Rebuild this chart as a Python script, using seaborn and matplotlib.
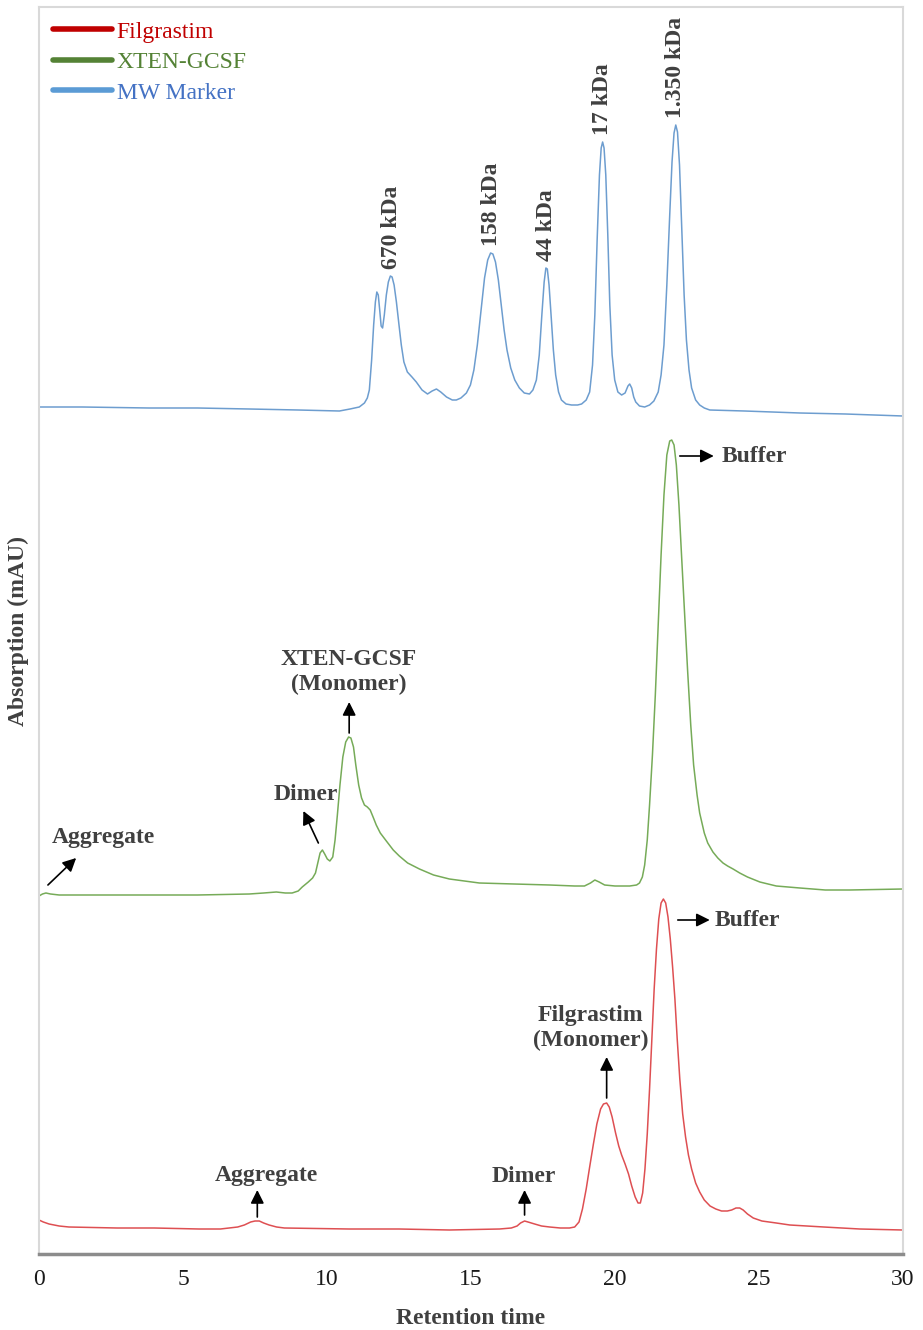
import numpy as np
import pandas as pd
import matplotlib
matplotlib.use("Agg")
import matplotlib.pyplot as plt
import seaborn as sns

# ---------------- data ----------------
marker_time = [0.00, 1.50, 3.82, 5.50, 7.30, 9.00, 10.43, 10.80, 11.12, 11.30, 11.40, 11.47,
               11.55, 11.62, 11.68, 11.73, 11.78, 11.83, 11.88, 11.93, 11.99, 12.06, 12.13, 12.20,
               12.26, 12.33, 12.41, 12.50, 12.58, 12.67, 12.79, 12.95, 13.10, 13.30, 13.49, 13.65,
               13.80, 13.95, 14.15, 14.35, 14.49, 14.65, 14.84, 14.98, 15.10, 15.22, 15.35, 15.47,
               15.58, 15.68, 15.76, 15.85, 15.95, 16.05, 16.15, 16.25, 16.38, 16.52, 16.68, 16.85,
               17.03, 17.15, 17.27, 17.37, 17.46, 17.54, 17.60, 17.65, 17.71, 17.78, 17.86, 17.94,
               18.04, 18.14, 18.30, 18.49, 18.70, 18.84, 19.00, 19.12, 19.22, 19.30, 19.38, 19.46,
               19.52, 19.57, 19.62, 19.68, 19.75, 19.82, 19.90, 19.99, 20.10, 20.23, 20.35, 20.45,
               20.51, 20.58, 20.65, 20.72, 20.85, 21.03, 21.20, 21.35, 21.50, 21.60, 21.70, 21.80,
               21.90, 21.98, 22.05, 22.11, 22.17, 22.24, 22.32, 22.40, 22.48, 22.57, 22.66, 22.80,
               22.94, 23.10, 23.29, 24.50, 26.42, 28.00, 30.00]
marker_abs = [3, 3, 2, 2, 1, 0, -1, 1, 3, 7, 12, 20,
              50, 85, 108, 118, 115, 100, 84, 82, 95, 115, 128, 134,
              133, 125, 108, 85, 65, 48, 38, 33, 28, 20, 16, 19,
              21, 18, 13, 10, 10, 12, 17, 25, 40, 65, 100, 132,
              150, 157, 156, 148, 130, 105, 80, 60, 42, 30, 22, 17,
              16, 20, 30, 55, 95, 128, 142, 141, 125, 95, 60, 35,
              18, 10, 6, 5, 5, 6, 10, 18, 45, 95, 170, 235,
              262, 268, 262, 235, 175, 105, 55, 30, 18, 15, 17, 24,
              26, 22, 13, 8, 4, 3, 5, 9, 18, 35, 65, 125,
              195, 248, 277, 285, 278, 245, 180, 115, 70, 40, 22, 10,
              5, 2, 0, -1, -3, -4, -6]

xten_time = [0.00, 0.12, 0.24, 0.40, 0.70, 2.00, 3.82, 5.50, 7.30, 7.80, 8.24, 8.55,
             8.79, 9.00, 9.14, 9.35, 9.50, 9.60, 9.68, 9.76, 9.84, 9.92, 10.01, 10.10,
             10.20, 10.28, 10.36, 10.45, 10.55, 10.65, 10.75, 10.83, 10.92, 11.00, 11.10, 11.20,
             11.30, 11.40, 11.50, 11.60, 11.71, 11.85, 12.06, 12.30, 12.51, 12.80, 13.21, 13.70,
             14.25, 15.29, 16.50, 17.73, 18.60, 18.94, 19.15, 19.30, 19.45, 19.64, 20.00, 20.51,
             20.75, 20.85, 20.95, 21.03, 21.12, 21.20, 21.30, 21.40, 21.50, 21.60, 21.70, 21.80,
             21.90, 21.97, 22.05, 22.13, 22.22, 22.31, 22.41, 22.52, 22.63, 22.73, 22.85, 22.94,
             23.10, 23.22, 23.40, 23.57, 23.75, 23.91, 24.10, 24.33, 24.60, 25.03, 25.60, 26.42,
             27.30, 28.15, 30.00]
xten_abs = [-1, 1, 2, 1, 0, 0, 0, 0, 1, 2, 3, 2,
            2, 4, 8, 13, 17, 22, 32, 42, 45, 41, 36, 34,
            38, 55, 80, 110, 138, 153, 158, 157, 148, 130, 110, 97,
            90, 88, 85, 78, 70, 62, 54, 45, 39, 32, 26, 20,
            16, 12, 11, 10, 9, 9, 12, 15, 13, 10, 9, 9,
            10, 12, 18, 30, 55, 90, 140, 200, 270, 340, 400, 440,
            454, 455, 450, 430, 390, 340, 285, 225, 170, 130, 100, 82,
            62, 52, 43, 37, 32, 29, 26, 22, 18, 13, 9, 7,
            5, 5, 6]

filg_time = [0.00, 0.15, 0.35, 0.70, 1.04, 2.71, 4.00, 5.56, 6.30, 6.60, 6.90, 7.13,
             7.35, 7.50, 7.65, 7.80, 7.99, 8.25, 8.52, 10.77, 12.50, 14.25, 15.99, 16.40,
             16.60, 16.72, 16.86, 16.98, 17.21, 17.45, 17.73, 18.10, 18.42, 18.60, 18.75, 18.87,
             19.00, 19.12, 19.25, 19.37, 19.50, 19.60, 19.71, 19.80, 19.90, 20.02, 20.13, 20.23,
             20.35, 20.47, 20.58, 20.70, 20.80, 20.88, 20.96, 21.04, 21.12, 21.20, 21.28, 21.36,
             21.44, 21.52, 21.60, 21.68, 21.76, 21.84, 21.92, 22.00, 22.08, 22.16, 22.25, 22.35,
             22.45, 22.55, 22.66, 22.80, 22.94, 23.10, 23.30, 23.50, 23.70, 23.90, 24.05, 24.20,
             24.33, 24.45, 24.60, 24.80, 25.10, 25.60, 26.07, 27.25, 28.50, 30.00]
filg_abs = [9, 7, 5, 3, 2, 1, 1, 0, 0, 1, 2, 4,
            7, 8, 8, 6, 4, 2, 1, 0, 0, -1, 0, 1,
            3, 6, 8, 7, 5, 3, 2, 1, 1, 2, 7, 20,
            40, 62, 85, 105, 120, 125, 126, 122, 112, 96, 83, 74,
            65, 55, 43, 32, 26, 26, 36, 60, 95, 140, 190, 240,
            280, 310, 326, 330, 326, 312, 290, 262, 230, 190, 150, 115,
            92, 74, 60, 46, 37, 29, 23, 20, 18, 18, 19, 21,
            21, 19, 15, 11, 8, 6, 4, 2, 0, -1]

sample_names = ["Filgrastim", "XTEN-GCSF", "MW Marker"]
marker_labels = ["670 kDa", "158 kDa", "44 kDa", "17 kDa", "1.350 kDa"]
x_ticks = [0, 5, 10, 15, 20, 25, 30]

# ---------------- layout / style ----------------
offsets = {"Filgrastim": 25, "XTEN-GCSF": 359, "MW Marker": 844}
trace_colors = {"Filgrastim": "#de4f52", "XTEN-GCSF": "#76ab58", "MW Marker": "#6d9dcf"}
legend_line_colors = ["#c00000", "#548235", "#5b9bd5"]
legend_text_colors = ["#c00000", "#548235", "#4472c4"]
ann_color = "#404040"
FS = 17

frames = []
for name, t, a in [("Filgrastim", filg_time, filg_abs),
                   ("XTEN-GCSF", xten_time, xten_abs),
                   ("MW Marker", marker_time, marker_abs)]:
    d = pd.DataFrame({"time": t, "absorption": a})
    d["sample"] = name
    d["y"] = d["absorption"] + offsets[name]
    frames.append(d)
df = pd.concat(frames, ignore_index=True)

sns.set_theme(style="white")
plt.rcParams["font.family"] = ["Liberation Serif", "DejaVu Serif"]

W, H = 923, 1330
fig = plt.figure(figsize=(W / 100, H / 100), dpi=100)
ax = fig.add_axes([39 / W, (H - 1254) / H, 864 / W, 1247 / H])

sns.lineplot(data=df, x="time", y="y", hue="sample", hue_order=sample_names,
             palette=trace_colors, estimator=None, sort=False, linewidth=1.1, ax=ax)

ax.set_xlim(0, 30)
ax.set_ylim(0, 1247)
ax.set_yticks([])
ax.set_xticks(x_ticks)
ax.set_xticklabels([str(v) for v in x_ticks], fontsize=FS, color="#1a1a1a")
ax.set_xticks([0, 30], minor=True)
ax.tick_params(axis="x", which="major", length=0, pad=11)
ax.tick_params(axis="x", which="minor", length=8, width=1.5, color="#8c8c8c", direction="out")

for s in ["left", "top", "right"]:
    ax.spines[s].set_color("#d9d9d9")
    ax.spines[s].set_linewidth(1.5)
ax.spines["bottom"].set_color("#8c8c8c")
ax.spines["bottom"].set_linewidth(2.5)

ax.set_xlabel("Retention time", fontsize=FS, fontweight="bold", color=ann_color, labelpad=13)
ax.set_ylabel("Absorption (mAU)", fontsize=FS, fontweight="bold", color=ann_color, labelpad=7)

# legend
leg = ax.legend(loc="upper left", bbox_to_anchor=(14 / 864, 1 - 14 / 1247), frameon=False,
                fontsize=FS, handlelength=2.5, handletextpad=0.2, labelspacing=0.38,
                borderpad=0, borderaxespad=0)
for line, lc in zip(leg.get_lines(), legend_line_colors):
    line.set_color(lc)
    line.set_linewidth(4)
for txt, tc in zip(leg.get_texts(), legend_text_colors):
    txt.set_color(tc)

# marker peak labels (at the local maxima of the MW marker trace)
mk = df[df["sample"] == "MW Marker"].reset_index(drop=True)
peak_times = [12.23, 15.71, 17.62, 19.57, 22.11]
for lab, pt in zip(marker_labels, peak_times):
    win = mk[(mk["time"] - pt).abs() < 0.12]
    row = win.loc[win["y"].idxmax()]
    ax.text(pt, row["y"] + 7, lab, rotation=90, ha="center", va="bottom",
            fontsize=FS, fontweight="bold", color=ann_color)

arrow_kw = dict(arrowstyle="-|>", color="black", lw=1.2, mutation_scale=20,
                shrinkA=0, shrinkB=0)

def arrow(tail, head):
    ax.annotate("", xy=head, xytext=tail, arrowprops=arrow_kw)

def label(x, y, s, ha="center"):
    ax.text(x, y, s, ha=ha, va="center", fontsize=FS, fontweight="bold",
            color=ann_color, linespacing=1.25)

# XTEN-GCSF annotations
arrow((22.25, 798), (23.43, 798))
label(23.71, 798, "Buffer", ha="left")
arrow((10.77, 521), (10.77, 552))
label(10.77, 582, "XTEN-GCSF\n(Monomer)")
arrow((9.70, 411), (9.18, 443))
label(9.28, 459, "Dimer")
arrow((0.31, 369), (1.29, 396))
label(2.22, 416, "Aggregate")

# Filgrastim annotations
arrow((7.58, 37), (7.58, 64))
label(7.89, 78, "Aggregate")
arrow((16.86, 39), (16.86, 64))
label(16.82, 77, "Dimer")
arrow((19.71, 156), (19.71, 197))
label(19.15, 226, "Filgrastim\n(Monomer)")
arrow((22.18, 334), (23.29, 334))
label(23.46, 334, "Buffer", ha="left")

fig.savefig("out.png", dpi=100)
